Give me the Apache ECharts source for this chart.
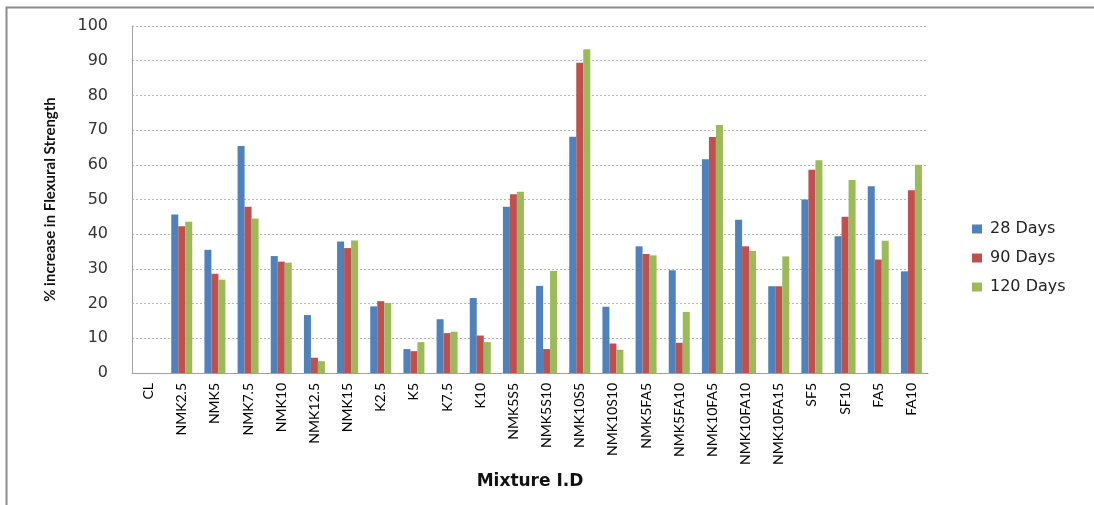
<!DOCTYPE html>
<html>
<head>
<meta charset="utf-8">
<script src="https://cdn.jsdelivr.net/npm/echarts@6/dist/echarts.min.js"></script>
<style>
  html, body { margin: 0; padding: 0; background: #fff; }
  #chart { width: 1094px; height: 505px; }
</style>
</head>
<body>
<div id="chart"></div>
<script>
// Mixture identifiers along the x axis
const mixtures = ['CL', 'NMK2.5', 'NMK5', 'NMK7.5', 'NMK10', 'NMK12.5', 'NMK15', 'K2.5', 'K5', 'K7.5', 'K10',
  'NMK5S5', 'NMK5S10', 'NMK10S5', 'NMK10S10', 'NMK5FA5', 'NMK5FA10', 'NMK10FA5', 'NMK10FA10', 'NMK10FA15',
  'SF5', 'SF10', 'FA5', 'FA10'];

// % increase in flexural strength relative to the control mix
const days28 = [0, 45.7, 35.5, 65.4, 33.7, 16.7, 37.9, 19.2, 6.9, 15.5, 21.6,
  47.9, 25.1, 68.1, 19.1, 36.5, 29.6, 61.6, 44.2, 25.0, 50.0, 39.4, 53.8, 29.3];
const days90 = [0, 42.3, 28.6, 47.9, 32.1, 4.4, 36.0, 20.7, 6.3, 11.5, 10.8,
  51.5, 6.9, 89.4, 8.5, 34.3, 8.7, 68.0, 36.5, 25.0, 58.6, 45.0, 32.7, 52.7];
const days120 = [0, 43.6, 26.9, 44.5, 31.8, 3.4, 38.2, 20.2, 8.9, 11.9, 8.9,
  52.2, 29.4, 93.3, 6.7, 33.9, 17.6, 71.5, 35.2, 33.6, 61.3, 55.6, 38.1, 60.0];

const seriesNames = ['28 Days', '90 Days', '120 Days'];
const yTicks = { min: 0, max: 100, step: 10 };

const colors = ['#4F81BD', '#C0504D', '#9BBB59'];

const chart = echarts.init(document.getElementById('chart'), null, { renderer: 'canvas' });

function bar(name, data, color) {
  return {
    name: name,
    type: 'bar',
    data: data,
    barWidth: 7,
    barGap: '0%',
    itemStyle: { color: color },
    emphasis: { disabled: true }
  };
}

chart.setOption({
  animation: false,
  color: colors,
  grid: { left: 132, right: 166, top: 26, bottom: 132, containLabel: false },
  legend: {
    orient: 'vertical',
    left: 967,
    top: 216,
    icon: 'rect',
    itemWidth: 10,
    itemHeight: 9,
    itemGap: 13,
    textStyle: { fontFamily: 'DejaVu Sans', fontSize: 16, color: '#222', padding: [0, 0, 0, 3] },
    data: seriesNames
  },
  xAxis: {
    type: 'category',
    data: mixtures,
    boundaryGap: true,
    axisLine: { lineStyle: { color: '#a0a0a0', width: 1 } },
    axisTick: { show: false },
    axisLabel: {
      interval: 0,
      rotate: 90,
      margin: 10,
      fontFamily: 'Lato',
      fontSize: 14,
      color: '#000'
    },
    name: 'Mixture I.D',
    nameLocation: 'middle',
    nameGap: 99,
    nameTextStyle: { fontFamily: 'DejaVu Sans', fontWeight: 'bold', fontSize: 17, color: '#111' }
  },
  yAxis: {
    type: 'value',
    min: yTicks.min,
    max: yTicks.max,
    interval: yTicks.step,
    axisLine: { show: true, lineStyle: { color: '#a0a0a0', width: 1 } },
    axisTick: { show: false },
    axisLabel: { margin: 24, fontFamily: 'DejaVu Sans', fontSize: 16, color: '#333' },
    splitLine: { lineStyle: { color: '#b8b8b8', type: [2, 2], width: 1 } },
    name: '% increase in Flexural Strength',
    nameLocation: 'middle',
    nameRotate: 90,
    nameGap: 74,
    nameTextStyle: { fontFamily: 'Lato', fontWeight: 'bold', fontSize: 15, color: '#111' }
  },
  graphic: [
    {
      type: 'polyline',
      shape: { points: [[6.5, 505], [6.5, 7.5], [1094, 7.5]] },
      style: { stroke: '#8c8c8c', lineWidth: 2, fill: null },
      silent: true
    }
  ],
  series: [
    bar(seriesNames[0], days28, colors[0]),
    bar(seriesNames[1], days90, colors[1]),
    bar(seriesNames[2], days120, colors[2])
  ]
});
</script>
</body>
</html>
